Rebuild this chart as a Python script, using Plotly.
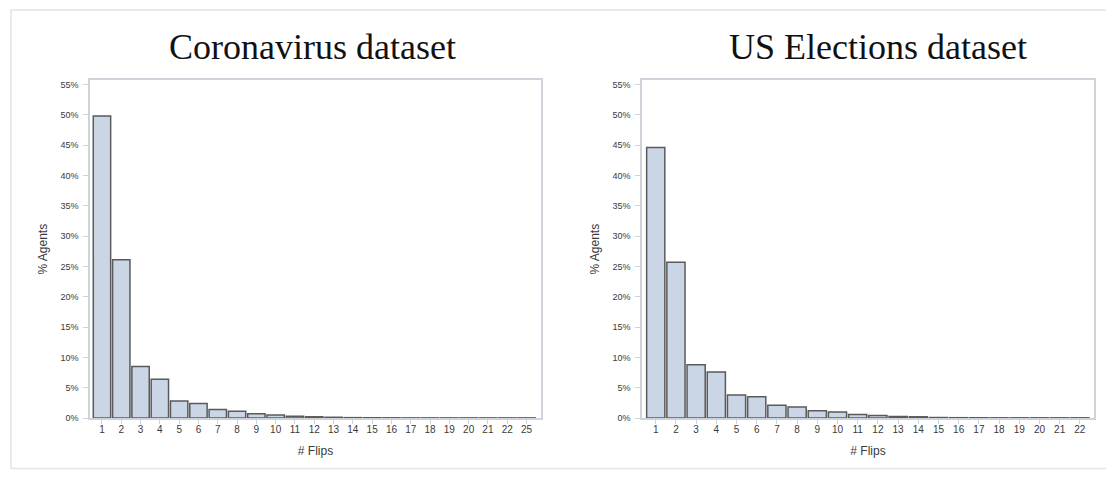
import plotly.graph_objects as go

# Coronavirus dataset
corona_flips = [str(i) for i in range(1, 23)] + ["25"]
corona_pct = [49.8, 26.1, 8.5, 6.4, 2.8, 2.4, 1.4, 1.1, 0.7, 0.5, 0.3, 0.2, 0.12,
              0.06, 0.04, 0.03, 0.02, 0.02, 0.02, 0.02, 0.02, 0.02, 0.02]

# US Elections dataset
us_flips = [str(i) for i in range(1, 23)]
us_pct = [44.6, 25.7, 8.8, 7.6, 3.8, 3.5, 2.1, 1.8, 1.2, 1.0, 0.6, 0.4, 0.25,
          0.2, 0.08, 0.05, 0.04, 0.03, 0.03, 0.03, 0.03, 0.03]

titles = ["Coronavirus dataset", "US Elections dataset"]
y_ticks = list(range(0, 56, 5))
y_ticktext = [f"{v}%" for v in y_ticks]

FILL = "#cad6e6"
EDGE = "#5a5a5a"
FRAME = "#cdd3d8"
TXT = "#3a3a3a"

fig = go.Figure()
fig.add_trace(go.Bar(x=corona_flips, y=corona_pct, xaxis="x", yaxis="y",
                     marker=dict(color=FILL, line=dict(color=EDGE, width=1.5)),
                     showlegend=False))
fig.add_trace(go.Bar(x=us_flips, y=us_pct, xaxis="x2", yaxis="y2",
                     marker=dict(color=FILL, line=dict(color=EDGE, width=1.5)),
                     showlegend=False))

OFF = 8  # page body margin
W, H = 1098, 467
YS = 0.985


def px(x):
    return (x - OFF) / W


def py(y):
    return 1 - (y / YS - OFF) / H


dom_y = [py(416), py(79)]
dom_x1 = [px(90), px(541)]
dom_x2 = [px(642), px(1094)]

FONT = "Liberation Sans, Arial"
xcommon = dict(type="category", showline=True, linecolor=FRAME, linewidth=1.5,
               mirror=True, ticks="outside", ticklen=4, tickcolor=FRAME,
               ticklabelstandoff=-3,
               tickfont=dict(family=FONT, size=10, color=TXT),
               showgrid=False, zeroline=False,
               title=dict(text="# Flips", font=dict(family=FONT, size=12, color=TXT),
                          standoff=13))
ycommon = dict(range=[0, 55.7], tickvals=y_ticks, ticktext=y_ticktext,
               showline=True, linecolor=FRAME, linewidth=1.5, mirror=True,
               ticks="outside", ticklen=5, tickcolor=FRAME, ticklabelstandoff=3,
               tickfont=dict(family=FONT, size=9, color=TXT),
               showgrid=False, zeroline=False,
               title=dict(text="% Agents", font=dict(family=FONT, size=12, color=TXT),
                          standoff=10))

fig.update_layout(
    width=W, height=H, margin=dict(l=0, r=0, t=0, b=0),
    paper_bgcolor="white", plot_bgcolor="white", bargap=0.1,
    xaxis=dict(domain=dom_x1, anchor="y", range=[-0.62, 22.75],
               categoryorder="array", categoryarray=corona_flips, **xcommon),
    yaxis=dict(domain=dom_y, anchor="x", **ycommon),
    xaxis2=dict(domain=dom_x2, anchor="y2", range=[-0.68, 21.7],
                categoryorder="array", categoryarray=us_flips, **xcommon),
    yaxis2=dict(domain=dom_y, anchor="x2", **ycommon),
    annotations=[
        dict(text=titles[0], x=px(312), y=py(46), xref="paper", yref="paper",
             showarrow=False, xanchor="center", yanchor="middle",
             font=dict(family="Liberation Serif, Times New Roman", size=36, color="#111111")),
        dict(text=titles[1], x=px(878), y=py(46), xref="paper", yref="paper",
             showarrow=False, xanchor="center", yanchor="middle",
             font=dict(family="Liberation Serif, Times New Roman", size=36, color="#111111")),
    ],
    shapes=[dict(type="rect", xref="paper", yref="paper",
                 x0=px(11), x1=1.02, y0=0.003, y1=py(9),
                 line=dict(color="#e4e4e4", width=1.5), layer="below")],
)

fig.write_html("out.html")
